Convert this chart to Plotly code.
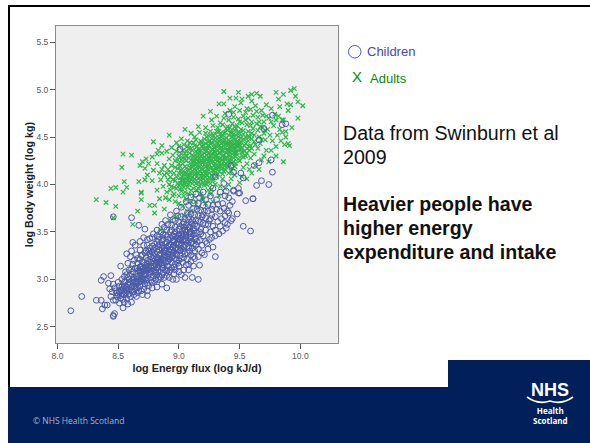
import plotly.graph_objects as go

adult_points = [
(9.37,4.98),(9.42,4.91),(9.49,4.97),(9.47,4.91),(9.64,4.96),(9.67,4.93),(9.80,4.97),(9.86,4.95),(9.92,4.99),(9.95,5.01),
(9.96,4.93),(9.98,4.87),(10.02,4.83),(9.98,4.70),(9.90,4.78),(9.92,4.84),(9.83,4.82),(9.89,4.85),(9.82,4.90),(9.33,4.85),
(9.37,4.85),(9.20,4.72),(9.26,4.77),(8.79,4.45),(8.92,4.52),(9.05,4.58),(9.10,4.54),(9.16,4.61),(8.54,4.32),(8.61,4.31),
(8.53,4.18),(8.44,3.96),(8.48,3.97),(8.55,4.03),(8.57,3.97),(8.54,3.92),(8.32,3.84),(8.40,3.81),(8.48,3.77),(8.66,3.72),
(8.69,3.84),(8.69,3.92),(8.76,3.78),(8.80,3.78),(8.80,3.70),(8.62,3.58),(8.46,3.65),(8.85,3.52),(9.86,4.24),(9.90,4.43),
(9.87,4.42),(9.91,4.41),(9.85,4.68),(9.86,4.68),(9.82,4.72),(8.73,4.27),(8.78,4.29),(8.82,4.32),(8.86,4.33),(8.90,4.35),
(8.86,4.41),(8.83,4.36),(8.68,4.20),(8.72,4.17),(8.79,4.15),(8.82,4.22),(8.84,4.12),(8.90,4.12),(8.67,4.03),(8.72,4.05),
(8.87,3.98),(8.82,3.94),(8.69,3.91),(8.75,4.22),(8.70,4.24),(8.74,4.10),(8.78,4.04),(8.85,4.05),(8.88,4.20),(8.92,4.27),
(8.94,4.39),(8.98,4.44),(9.02,4.48),(9.07,4.46),(9.13,4.50),(9.17,4.55),(9.22,4.60),(9.27,4.68),(9.31,4.72),(9.34,4.65),
(9.38,4.75),(9.42,4.78),(9.46,4.82),(9.51,4.86),(9.56,4.80),(9.60,4.88),(9.63,4.83),(9.68,4.78),(9.72,4.84),(9.76,4.80),
(9.79,4.74),(9.74,4.70),(9.70,4.66),(9.78,4.62),(9.83,4.58),(9.88,4.56),(9.93,4.60),(9.88,4.50),(9.84,4.46),(9.80,4.40),
(9.76,4.36),(9.80,4.30),(9.74,4.24),(9.70,4.30),(9.66,4.16),(9.60,4.12),(9.56,4.06),(9.50,4.02),(9.43,4.06),(9.38,3.96),
(9.33,3.88),(9.28,3.82),(9.22,3.80),(9.16,3.76),(9.10,3.72),(9.04,3.68),(8.98,3.66),(8.93,3.62),(8.88,3.74),(8.92,3.84),
(8.96,3.90),(9.00,3.80),(9.06,3.84),(9.12,3.88),(9.18,3.90),(9.24,3.94),(9.30,4.00),(9.36,4.06),
(8.90,3.92),(8.94,3.98),(8.97,4.04),(8.93,4.08),(8.96,4.12),(8.99,4.17),(8.94,4.20),(8.97,4.25),(9.00,4.30),(9.03,4.36),
(9.01,3.95),(9.03,4.00),(9.05,3.92),(9.07,3.97),(9.09,4.03),(9.01,4.07),(9.04,4.11),(9.07,4.08),(9.10,4.12),(9.12,3.96),
(9.14,4.01),(9.16,4.06),(9.13,4.10),(9.17,3.98),(9.20,4.02),(9.22,4.08),(9.19,4.12),(9.24,4.04),(9.27,4.10),(9.30,4.13),
(9.02,4.15),(9.05,4.19),(9.08,4.15),(9.11,4.18),(9.14,4.15),(9.17,4.18),(9.20,4.16),(9.23,4.13),(9.26,4.17),(9.29,4.20),
(9.33,4.14),(9.35,4.19),(9.38,4.16),(9.41,4.12),(9.44,4.17),(9.47,4.22),(9.03,4.22),(9.06,4.25),(9.09,4.22),(9.12,4.25),
(9.15,4.22),(9.18,4.25),(9.21,4.21),(9.24,4.24),(9.27,4.23),(9.30,4.26),(9.33,4.23),(9.36,4.26),(9.39,4.22),(9.42,4.25),
(9.45,4.28),(9.50,4.25),(9.53,4.18),(9.56,4.22),(9.59,4.28),(9.06,4.30),(9.09,4.33),(9.12,4.30),(9.15,4.33),(9.18,4.30),
(9.21,4.33),(9.24,4.29),(9.27,4.32),(9.30,4.30),(9.33,4.33),(9.36,4.30),(9.39,4.33),(9.42,4.30),(9.45,4.34),(9.48,4.31),
(9.52,4.34),(9.55,4.30),(9.58,4.36),(9.62,4.32),(9.65,4.38),(9.10,4.38),(9.13,4.41),(9.16,4.37),(9.19,4.40),(9.22,4.38),
(9.25,4.41),(9.28,4.37),(9.31,4.40),(9.34,4.38),(9.37,4.41),(9.40,4.37),(9.43,4.40),(9.46,4.38),(9.49,4.41),(9.52,4.39),
(9.55,4.43),(9.59,4.41),(9.62,4.45),(9.67,4.43),(9.71,4.47),(9.18,4.46),(9.21,4.48),(9.24,4.45),(9.27,4.48),(9.30,4.46),
(9.33,4.49),(9.36,4.46),(9.39,4.49),(9.42,4.45),(9.45,4.48),(9.48,4.46),(9.51,4.49),(9.54,4.47),(9.58,4.50),(9.62,4.52),
(9.66,4.50),(9.70,4.54),(9.75,4.52),(9.22,4.54),(9.26,4.56),(9.30,4.53),(9.33,4.56),(9.37,4.54),(9.40,4.57),(9.43,4.54),
(9.46,4.57),(9.50,4.54),(9.53,4.57),(9.57,4.56),(9.61,4.59),(9.65,4.57),(9.69,4.60),(9.73,4.58),(9.28,4.62),(9.32,4.60),
(9.36,4.63),(9.40,4.61),(9.44,4.64),(9.48,4.62),(9.52,4.65),(9.56,4.63),(9.60,4.66),(9.64,4.64),(9.37,4.70),(9.41,4.68),
(9.45,4.71),(9.49,4.69),(9.53,4.72),(9.57,4.70),(9.61,4.73),(9.65,4.71),(9.69,4.73),(9.45,4.76),(9.50,4.78),(9.55,4.76),
(9.59,4.79),(9.64,4.77),(9.52,4.90),(9.57,4.93),(9.60,4.95),
(9.08,4.28),(9.11,4.36),(9.14,4.27),(9.17,4.35),(9.20,4.27),(9.23,4.36),(9.26,4.27),(9.29,4.35),(9.32,4.28),(9.35,4.36),
(9.38,4.28),(9.41,4.36),(9.44,4.43),(9.35,4.43),(9.26,4.43),(9.17,4.43),(9.12,4.20),(9.16,4.12),(9.20,4.09),(9.24,4.19),
(9.28,4.15),(9.32,4.18),(9.36,4.11),(9.10,4.05),(9.06,4.02),(9.02,4.04),(9.13,4.06),(9.18,4.05),(9.23,4.00),(9.08,3.90),
(9.04,3.88),(9.00,3.88),(9.10,3.82),(8.98,3.96),(8.95,3.88),(9.15,3.94),(9.19,3.86),(9.27,3.95),(8.91,4.16),(9.00,4.22),
(9.03,4.28),(9.06,4.35),(9.04,4.42),(9.09,4.44),(9.14,4.47),(9.28,4.52),(9.47,4.52),(9.35,4.50),(9.41,4.42),(9.50,4.44),
(9.00,3.99),(9.02,3.93),(9.04,3.97),(9.06,4.06),(9.08,4.00),(9.10,3.94),(9.11,4.08),(9.13,4.03),(9.15,4.09),(9.16,3.96),
(9.18,4.01),(9.19,4.07),(9.21,3.99),(9.22,4.04),(9.23,4.10),(9.25,4.07),(9.26,4.01),(9.28,4.05),(9.29,4.11),(9.31,4.08),
(9.03,4.08),(9.05,4.13),(9.06,4.17),(9.08,4.11),(9.09,4.18),(9.11,4.14),(9.12,4.22),(9.13,4.16),(9.15,4.19),(9.16,4.25),
(9.17,4.14),(9.18,4.21),(9.19,4.17),(9.20,4.24),(9.21,4.14),(9.22,4.19),(9.23,4.26),(9.24,4.16),(9.25,4.21),(9.26,4.25),
(9.27,4.18),(9.28,4.24),(9.29,4.15),(9.30,4.22),(9.31,4.17),(9.32,4.25),(9.33,4.19),(9.34,4.27),(9.35,4.22),(9.36,4.17),
(9.37,4.24),(9.38,4.20),(9.39,4.28),(9.40,4.24),(9.41,4.18),(9.42,4.27),(9.43,4.22),(9.44,4.32),(9.45,4.24),(9.46,4.30),
(9.10,4.26),(9.11,4.31),(9.13,4.28),(9.14,4.35),(9.15,4.29),(9.16,4.33),(9.17,4.28),(9.18,4.36),(9.19,4.31),(9.20,4.38),
(9.21,4.29),(9.22,4.35),(9.23,4.31),(9.24,4.38),(9.25,4.33),(9.26,4.30),(9.27,4.37),(9.28,4.33),(9.29,4.39),(9.30,4.34),
(9.31,4.30),(9.32,4.36),(9.33,4.41),(9.34,4.33),(9.35,4.39),(9.36,4.35),(9.37,4.31),(9.38,4.38),(9.39,4.43),(9.40,4.35),
(9.41,4.39),(9.42,4.34),(9.43,4.37),(9.44,4.41),(9.45,4.37),(9.46,4.43),(9.47,4.35),(9.48,4.40),(9.49,4.36),(9.50,4.42),
(9.20,4.42),(9.22,4.43),(9.24,4.41),(9.25,4.46),(9.27,4.44),(9.29,4.42),(9.30,4.49),(9.32,4.44),(9.33,4.46),(9.35,4.47),
(9.37,4.44),(9.38,4.47),(9.40,4.43),(9.41,4.47),(9.43,4.44),(9.44,4.50),(9.46,4.47),(9.48,4.44),(9.49,4.50),(9.51,4.45),
(9.36,4.52),(9.38,4.55),(9.41,4.52),(9.43,4.56),(9.45,4.53),(9.47,4.59),(9.49,4.55),(9.51,4.58),(9.53,4.53),(9.55,4.50),
(9.56,4.38),(9.53,4.29),(9.51,4.37),(9.54,4.41),(9.57,4.46),(9.60,4.48),(9.06,4.11),(9.04,4.05),(9.08,4.07),(9.02,4.12),
(8.88,4.10),(8.91,4.05),(8.86,4.16),(8.93,3.94),(8.89,3.86),(8.84,3.85),(8.97,3.82),(8.95,4.31),(8.98,4.35),(9.00,4.40),
(9.07,4.40),(9.12,4.44),(9.03,3.77),(9.07,3.72),(9.14,3.82),(9.20,3.84),(9.26,3.90),(9.34,3.98),(9.41,4.00),(9.46,4.10),
(9.52,4.08),(9.58,4.16),(9.63,4.20),(9.68,4.26),(9.72,4.36),(9.77,4.46),(9.81,4.52),(9.85,4.55),(9.66,4.66),(9.72,4.72),
(9.76,4.66),(9.80,4.68),
(9.01,4.01),(9.03,4.04),(9.05,4.01),(9.07,4.04),(9.09,4.09),(9.11,4.01),(9.14,4.12),(9.16,4.02),(9.18,4.09),(9.20,4.06),
(9.22,4.12),(9.25,4.12),(9.27,4.06),(9.30,4.17),(9.32,4.11),(9.34,4.20),(9.37,4.14),(9.40,4.20),(9.43,4.14),(9.46,4.19),
(9.49,4.27),(9.47,4.33),(9.52,4.30),(9.54,4.35),(9.56,4.33),(9.58,4.40),(9.60,4.38),(9.63,4.42),(9.57,4.51),(9.60,4.54),
(9.13,4.24),(9.17,4.24),(9.21,4.25),(9.25,4.27),(9.29,4.28),(9.33,4.27),(9.37,4.28),(9.41,4.31),(9.44,4.38),(9.47,4.41),
(8.95,4.05),(8.92,4.00),(8.98,4.08),(8.99,4.01),(9.00,4.12),(8.96,3.97),(8.93,4.13),(8.97,4.18),(9.01,4.19),(8.99,4.26),
(9.02,4.26),(9.05,4.27),(9.05,4.33),(9.02,4.32),(9.08,4.38),(9.15,4.40),(9.19,4.44),(9.23,4.50),(9.26,4.52),(9.31,4.56),
(9.34,4.53),(9.39,4.59),(9.42,4.60),(9.46,4.61),(9.50,4.66),(9.55,4.68),(9.59,4.62),(9.67,4.61),(9.71,4.57),(9.68,4.47),
]

child_points = [
(8.11,2.67),(8.20,2.82),(8.32,2.78),(8.36,2.78),(8.37,2.69),(8.39,2.73),(8.41,2.73),(8.46,2.61),(8.47,2.64),(8.46,2.62),
(8.36,2.99),(8.38,3.03),(8.44,3.04),(8.52,3.14),(8.62,3.39),(8.61,3.65),(8.46,3.66),(8.67,3.57),(8.72,3.53),(9.11,3.02),
(9.16,3.00),(8.90,2.91),(8.95,3.00),(8.98,3.00),(9.02,3.05),(9.05,3.02),(9.17,3.15),(9.13,3.22),(9.30,3.24),(9.28,3.34),
(9.22,3.40),(9.17,3.41),(9.59,3.51),(9.53,3.56),(9.39,3.54),(9.36,3.51),(9.44,3.64),(9.48,3.69),(9.32,3.61),(9.61,3.85),
(9.55,3.83),(9.44,3.82),(9.50,3.91),(9.45,3.93),(9.41,4.74),(9.77,4.73),(9.70,4.59),(9.88,4.64),(9.85,4.63),(9.01,4.37),
(9.77,4.13),(9.76,4.26),(9.66,4.23),(9.62,4.20),(9.66,4.47),(9.43,4.20),(9.45,4.13),(9.51,4.12),(9.53,4.07),(9.64,3.99),
(9.68,4.04),(9.74,4.00),(9.49,3.96),(9.45,3.94),(9.49,3.91),(9.61,3.85),(9.37,4.01),(9.30,4.08),(9.28,3.96),(9.34,3.92),
(9.20,3.92),(9.39,3.93),(9.41,3.86),(9.36,3.80),(9.31,3.84),(9.26,3.88),(9.22,3.84),(9.17,3.86),(9.12,3.80),(9.08,3.78),
(8.44,2.82),(8.43,2.90),(8.46,2.95),(8.42,2.96),(8.48,2.78),(8.51,2.75),(8.54,2.70),(8.58,2.74),(8.61,2.76),(8.65,2.82),
(8.70,2.84),(8.74,2.83),(8.78,2.91),(8.82,2.92),(8.86,2.95),(8.54,2.79),(8.49,2.86),(8.47,2.91),(8.50,2.97),(8.53,3.00),
(8.56,3.08),(8.58,3.17),(8.60,3.24),(8.57,3.27),(8.61,3.30),(8.64,3.36),(8.68,3.40),(8.71,3.44),(8.76,3.43),(8.79,3.48),
(8.82,3.52),(8.86,3.58),(8.89,3.62),(8.93,3.68),(8.98,3.72),(9.02,3.76),(9.06,3.82),(9.10,3.87),(9.14,3.90),
(8.50,2.84),(8.52,2.89),(8.55,2.84),(8.57,2.88),(8.60,2.82),(8.62,2.87),(8.55,2.93),(8.58,2.95),(8.61,2.92),(8.64,2.90),
(8.67,2.88),(8.53,2.92),(8.56,2.98),(8.59,3.00),(8.62,2.97),(8.65,2.95),(8.68,2.93),(8.71,2.90),(8.74,2.88),(8.60,3.04),
(8.63,3.02),(8.66,3.00),(8.69,2.98),(8.72,2.95),(8.75,2.93),(8.78,2.97),(8.62,3.08),(8.65,3.06),(8.68,3.04),(8.71,3.02),
(8.74,3.00),(8.77,3.02),(8.80,2.98),(8.83,3.00),(8.64,3.12),(8.67,3.10),(8.70,3.08),(8.73,3.06),(8.76,3.06),(8.79,3.04),
(8.82,3.05),(8.85,3.02),(8.66,3.17),(8.69,3.14),(8.72,3.12),(8.75,3.10),(8.78,3.09),(8.81,3.10),(8.84,3.08),(8.87,3.07),
(8.68,3.21),(8.71,3.18),(8.74,3.16),(8.77,3.14),(8.80,3.14),(8.83,3.13),(8.86,3.12),(8.89,3.10),(8.92,3.08),(8.70,3.26),
(8.73,3.23),(8.76,3.21),(8.79,3.19),(8.82,3.18),(8.85,3.17),(8.88,3.15),(8.91,3.14),(8.94,3.12),(8.97,3.10),(8.73,3.30),
(8.76,3.27),(8.79,3.25),(8.82,3.23),(8.85,3.22),(8.88,3.20),(8.91,3.19),(8.94,3.18),(8.97,3.16),(9.00,3.14),(8.76,3.33),
(8.79,3.31),(8.82,3.29),(8.85,3.27),(8.88,3.26),(8.91,3.24),(8.94,3.23),(8.97,3.22),(9.00,3.20),(9.03,3.18),(9.06,3.15),
(8.80,3.37),(8.83,3.35),(8.86,3.33),(8.89,3.31),(8.92,3.29),(8.95,3.28),(8.98,3.27),(9.01,3.25),(9.04,3.23),(9.07,3.21),
(9.10,3.19),(8.83,3.42),(8.86,3.40),(8.89,3.38),(8.92,3.36),(8.95,3.34),(8.98,3.33),(9.01,3.31),(9.04,3.30),(9.07,3.28),
(9.10,3.26),(9.13,3.30),(8.87,3.47),(8.90,3.45),(8.93,3.43),(8.96,3.41),(8.99,3.39),(9.02,3.37),(9.05,3.36),(9.08,3.34),
(9.11,3.33),(9.14,3.36),(8.90,3.52),(8.93,3.50),(8.96,3.48),(8.99,3.46),(9.02,3.44),(9.05,3.43),(9.08,3.41),(9.11,3.40),
(9.14,3.43),(9.19,3.36),(8.94,3.57),(8.97,3.55),(9.00,3.53),(9.03,3.51),(9.06,3.50),(9.09,3.48),(9.12,3.47),(9.15,3.49),
(9.20,3.46),(9.25,3.42),(8.97,3.62),(9.00,3.60),(9.03,3.58),(9.06,3.57),(9.09,3.55),(9.12,3.54),(9.15,3.56),(9.18,3.53),
(9.22,3.52),(9.26,3.50),(9.30,3.46),(9.02,3.66),(9.05,3.64),(9.08,3.63),(9.11,3.62),(9.14,3.62),(9.17,3.60),(9.20,3.59),
(9.24,3.58),(9.28,3.56),(9.34,3.56),(9.38,3.60),(9.40,3.58),(9.07,3.70),(9.10,3.69),(9.13,3.68),(9.16,3.67),(9.19,3.66),
(9.22,3.65),(9.26,3.64),(9.30,3.66),(9.35,3.64),(9.38,3.67),(9.12,3.75),(9.15,3.74),(9.18,3.73),(9.21,3.72),(9.24,3.72),
(9.27,3.74),(9.31,3.74),(9.34,3.72),(9.37,3.75),(9.41,3.70),(9.16,3.80),(9.20,3.78),(9.24,3.79),(9.28,3.78),(9.32,3.79),
(8.72,3.05),(8.75,3.13),(8.68,3.13),(8.86,3.05),(8.83,3.22),(8.78,3.35),(8.92,3.22),(8.98,3.20),(8.88,3.30),(9.00,3.42),
(8.95,3.46),(9.05,3.40),(9.10,3.50),(9.04,3.55),(8.84,3.45),(8.74,3.36),(8.66,3.22),(8.58,3.02),(8.52,2.83),(8.48,2.88),
(8.55,2.76),(8.66,2.92),(8.70,3.00),(8.82,3.12),(8.90,3.09),(9.08,3.10),(9.12,3.14),(9.16,3.24),(9.21,3.26),(9.24,3.32),
(8.51,2.87),(8.53,2.85),(8.54,2.90),(8.56,2.86),(8.57,2.92),(8.58,2.84),(8.59,2.89),(8.60,2.95),(8.61,2.88),(8.63,2.93),
(8.64,2.98),(8.65,2.91),(8.66,3.03),(8.67,2.97),(8.68,3.07),(8.69,3.01),(8.70,3.11),(8.71,3.05),(8.72,3.15),(8.73,3.09),
(8.74,3.20),(8.75,3.14),(8.76,3.08),(8.77,3.18),(8.78,3.12),(8.79,3.22),(8.80,3.17),(8.81,3.07),(8.82,3.20),(8.83,3.16),
(8.84,3.26),(8.85,3.20),(8.86,3.15),(8.87,3.29),(8.88,3.23),(8.89,3.18),(8.90,3.33),(8.91,3.27),(8.92,3.21),(8.93,3.37),
(8.94,3.31),(8.95,3.25),(8.96,3.39),(8.97,3.33),(8.98,3.26),(8.99,3.43),(9.00,3.37),(9.01,3.30),(9.02,3.47),(9.03,3.41),
(9.04,3.34),(9.05,3.52),(9.06,3.46),(9.07,3.38),(9.08,3.55),(9.09,3.44),(9.10,3.38),(9.11,3.58),(9.12,3.51),(9.13,3.43),
(8.86,3.36),(8.88,3.33),(8.90,3.39),(8.91,3.35),(8.93,3.31),(8.95,3.41),(8.96,3.36),(8.97,3.45),(8.98,3.38),(9.00,3.47),
(9.01,3.42),(9.03,3.45),(9.04,3.48),(9.06,3.41),(9.07,3.52),(9.09,3.50),(9.10,3.45),(8.84,3.31),(8.80,3.27),(8.77,3.24),
(8.74,3.12),(8.71,3.09),(8.68,3.09),(8.65,3.03),(8.62,3.00),(8.59,2.97),(8.56,2.90),(8.53,2.88),(8.81,3.16),(8.84,3.18),
(8.87,3.21),(8.90,3.24),(8.93,3.26),(8.96,3.29),(8.99,3.31),(9.02,3.33),
(8.59,3.10),(8.62,3.16),(8.65,3.26),(8.68,3.31),(8.71,3.36),(8.74,3.42),(8.78,3.44),(8.82,3.46),(8.85,3.50),(8.88,3.55),
(8.91,3.58),(8.95,3.63),(8.99,3.67),(8.88,3.02),(8.92,3.02),(8.96,3.06),(9.00,3.08),(9.04,3.10),(9.08,3.16),(9.12,3.24),
(9.16,3.32),(9.19,3.28),(9.23,3.38),(9.27,3.44),(9.30,3.52),(9.33,3.48),(9.43,3.62),(9.40,3.72),(9.42,3.78),(9.38,3.88),
(8.45,2.87),(8.46,2.78),(8.49,2.82),(8.51,2.93),(8.52,2.80),(8.55,2.97),(8.57,2.80),(8.59,2.85),(8.63,2.84),(8.66,2.86),
(8.69,2.88),(8.55,3.03),(8.57,3.05),(8.61,3.11),(8.63,3.20),(8.66,3.12),(8.70,3.18),(8.69,3.25),(8.72,3.28),(8.75,3.30),
(8.78,3.29),(8.80,3.33),(8.82,3.39),(8.84,3.37),(8.87,3.43),(8.89,3.47),(8.91,3.42),(8.94,3.52),(8.97,3.50),(9.01,3.56),
(9.04,3.60),(9.08,3.66),(9.10,3.60),(9.13,3.58),(9.16,3.62),(9.18,3.48),(9.22,3.58),(9.25,3.62),(9.20,3.68),(9.27,3.68),
(8.81,3.00),(8.84,3.03),(8.87,3.12),(8.90,3.04),(8.93,3.10),(8.96,3.13),(8.99,3.17),(9.02,3.22),(9.05,3.27),(9.09,3.30),
(9.12,3.37),(9.15,3.40),(9.17,3.50),(8.77,2.99),(8.74,2.96),(8.71,2.98),(8.68,2.99),(8.65,2.98),(8.72,3.00),(8.80,3.08),
]

legend_labels = ["Children", "Adults"]
x_ticks = [8.0, 8.5, 9.0, 9.5, 10.0]
y_ticks = [2.5, 3.0, 3.5, 4.0, 4.5, 5.0, 5.5]

W, H = 590, 443
def px(x): return x / W
def py(y): return 1 - y / H

fig = go.Figure()
fig.add_trace(go.Scatter(
    x=[p[0] for p in adult_points], y=[p[1] for p in adult_points], mode="markers", name="Adults",
    marker=dict(symbol="x-thin", size=4.5, color="#2fb54c", line=dict(color="#2fb54c", width=1.2)),
))
fig.add_trace(go.Scatter(
    x=[p[0] for p in child_points], y=[p[1] for p in child_points], mode="markers", name="Children",
    marker=dict(symbol="circle-open", size=5.8, color="#4a5aa8", line=dict(color="#4a5aa8", width=1)),
))

shapes = [
    dict(type="rect", xref="paper", yref="paper", x0=px(8), x1=1, y0=0, y1=py(387), fillcolor="#001f5b", line_width=0, layer="below"),
    dict(type="rect", xref="paper", yref="paper", x0=px(448), x1=1, y0=py(387), y1=py(360), fillcolor="#001f5b", line_width=0, layer="below"),
    dict(type="rect", xref="paper", yref="paper", x0=px(8), x1=px(10), y0=py(5), y1=py(387), fillcolor="#000000", line_width=0, layer="below"),
    dict(type="rect", xref="paper", yref="paper", x0=px(8), x1=1, y0=py(5), y1=py(7), fillcolor="#000000", line_width=0, layer="below"),
    dict(type="circle", xref="paper", yref="paper", x0=px(348.5), x1=px(361), y0=py(58), y1=py(45.5), line=dict(color="#4a55cc", width=1)),
    dict(type="path", xref="paper", yref="paper",
         path=f"M {px(527)} {py(397)} Q {px(538)} {py(405)} {px(550)} {py(401)} Q {px(562)} {py(405)} {px(573)} {py(397)}",
         line=dict(color="#ffffff", width=1.6)),
]

def note(text, x, y, size, color, bold=False, anchor="left", font="Liberation Sans"):
    return dict(text=f"<b>{text}</b>" if bold else text, xref="paper", yref="paper", x=px(x), y=py(y),
                xanchor=anchor, yanchor="middle", showarrow=False, align="center" if anchor == "center" else "left",
                font=dict(family=font, size=size, color=color))

annotations = [
    note(legend_labels[0], 365.5, 51.5, 13, "#4444cc"),
    note("X", 349.5, 77, 15, "#0a8a0a"),
    note(legend_labels[1], 368, 78, 13, "#0a8a0a"),
    note("Data from Swinburn et al", 341, 133, 19.6, "#111111"),
    note("2009", 341, 157, 19.6, "#111111"),
    note("Heavier people have", 341, 204, 19.6, "#111111", True),
    note("higher energy", 341, 228, 19.6, "#111111", True),
    note("expenditure and intake", 341, 252, 19.6, "#111111", True),
    note("© NHS Health Scotland", 31, 420, 8.5, "#a8b3cc", font="Open Sans"),
    note("NHS", 550, 390, 18, "#ffffff", True, "center"),
    note("Health<br>Scotland", 550, 415.5, 8, "#ffffff", True, "center", "Open Sans"),
]

tickfont = dict(family="Liberation Sans", size=8.5, color="#555555")
titlefont = dict(family="Liberation Sans", size=10.8, color="#222222")
axis = dict(showgrid=False, zeroline=False, showline=True, linecolor="#8a8a8a", linewidth=1, mirror=True, automargin=False,
            ticks="outside", ticklen=5, tickcolor="#555555", tickwidth=1, tickfont=tickfont)

fig.update_layout(
    width=W, height=H, autosize=False, margin=dict(l=0, r=0, t=0, b=0),
    paper_bgcolor="#ffffff", plot_bgcolor="#efefef", showlegend=False,
    shapes=shapes, annotations=annotations,
    xaxis=dict(domain=[px(56), px(338)], range=[7.988, 10.31], tickvals=x_ticks, ticktext=[f"{v:.1f}" for v in x_ticks],
               title=dict(text="<b>log Energy flux (log kJ/d)</b>", font=titlefont, standoff=4), **axis),
    yaxis=dict(domain=[py(343), py(26)], range=[2.33, 5.67], tickvals=y_ticks, ticktext=[f"{v:.1f}" for v in y_ticks],
               title=dict(text="<b>log Body weight (log kg)</b>", font=titlefont, standoff=0), **axis),
)
fig.write_html("out.html", config=dict(displayModeBar=False),
               post_script="document.body.style.margin='0';document.documentElement.style.overflow='hidden';")
